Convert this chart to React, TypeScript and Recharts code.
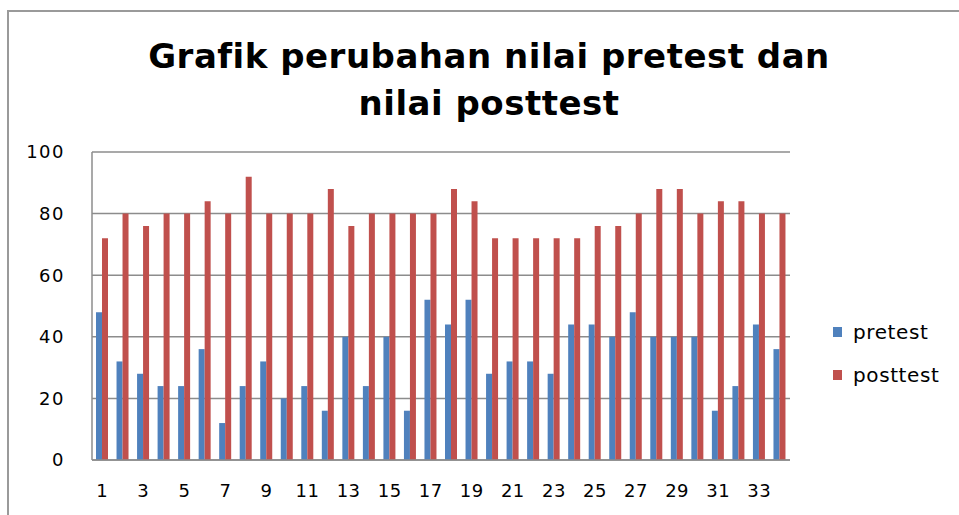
import React from "react";
import { BarChart, Bar, XAxis, YAxis, CartesianGrid } from "recharts";

const categories: string[] = [
  "1","2","3","4","5","6","7","8","9","10","11","12","13","14","15","16","17",
  "18","19","20","21","22","23","24","25","26","27","28","29","30","31","32","33","34",
];
const pretest: number[] = [
  48, 32, 28, 24, 24, 36, 12, 24, 32, 20, 24, 16, 40, 24, 40, 16, 52,
  44, 52, 28, 32, 32, 28, 44, 44, 40, 48, 40, 40, 40, 16, 24, 44, 36,
];
const posttest: number[] = [
  72, 80, 76, 80, 80, 84, 80, 92, 80, 80, 80, 88, 76, 80, 80, 80, 80,
  88, 84, 72, 72, 72, 72, 72, 76, 76, 80, 88, 88, 80, 84, 84, 80, 80,
];
const yTicks: number[] = [0, 20, 40, 60, 80, 100];
const titleLines: string[] = ["Grafik perubahan nilai pretest dan", "nilai posttest"];
const seriesNames: string[] = ["pretest", "posttest"];
const seriesColors: string[] = ["#4F81BD", "#C0504D"];

const data = categories.map((c, i) => ({ name: c, pretest: pretest[i], posttest: posttest[i] }));

const FONT = "'DejaVu Sans', sans-serif";
const GRID = "#8c8c8c";
const FRAME = "#9a9a9a";

export default function App() {
  return (
    <div style={{ position: "absolute", left: 0, top: 0, width: 959, height: 515, overflow: "hidden", background: "#fff" }}>
      <div style={{ position: "absolute", left: 7, top: 10, width: 2, height: 505, background: FRAME }} />
      <div style={{ position: "absolute", left: 7, top: 10, width: 952, height: 2, background: FRAME }} />
      <div
        style={{
          position: "absolute",
          left: 0,
          top: 33,
          width: 978,
          textAlign: "center",
          fontFamily: FONT,
          fontWeight: "bold",
          fontSize: 34,
          letterSpacing: 0.5,
          lineHeight: "47px",
          color: "#000",
        }}
      >
        {titleLines.map((t) => (
          <div key={t}>{t}</div>
        ))}
      </div>
      <div style={{ position: "absolute", left: 833, top: 310, fontFamily: FONT }}>
        {seriesNames.map((n, i) => (
          <div key={n} style={{ display: "flex", alignItems: "center", height: 43 }}>
            <div style={{ width: 9, height: 10, background: seriesColors[i], marginRight: 11 }} />
            <span style={{ fontSize: 20, letterSpacing: 0.6, color: "#000" }}>{n}</span>
          </div>
        ))}
      </div>
      <div style={{ position: "absolute", left: 0, top: 0 }}>
        <BarChart
          width={959}
          height={515}
          data={data}
          margin={{ top: 152, right: 169, left: 0, bottom: 15 }}
          barGap={0}
          barSize={6}
        >
          <CartesianGrid horizontal={true} vertical={false} stroke={GRID} strokeWidth={1.5} />
          <XAxis
            dataKey="name"
            interval={1}
            height={40}
            tickLine={false}
            axisLine={{ stroke: GRID, strokeWidth: 1.5 }}
            tickMargin={18}
            tick={{ fontFamily: FONT, fontSize: 18, fill: "#000", letterSpacing: 0.5 }}
          />
          <YAxis
            width={92}
            domain={[0, 100]}
            ticks={yTicks}
            tickLine={false}
            axisLine={{ stroke: GRID, strokeWidth: 1.5 }}
            tickMargin={21}
            tick={{ fontFamily: FONT, fontSize: 18, fill: "#000", letterSpacing: 1.5 }}
          />
          <Bar dataKey="pretest" name={seriesNames[0]} fill={seriesColors[0]} isAnimationActive={false} />
          <Bar dataKey="posttest" name={seriesNames[1]} fill={seriesColors[1]} isAnimationActive={false} />
        </BarChart>
      </div>
    </div>
  );
}
